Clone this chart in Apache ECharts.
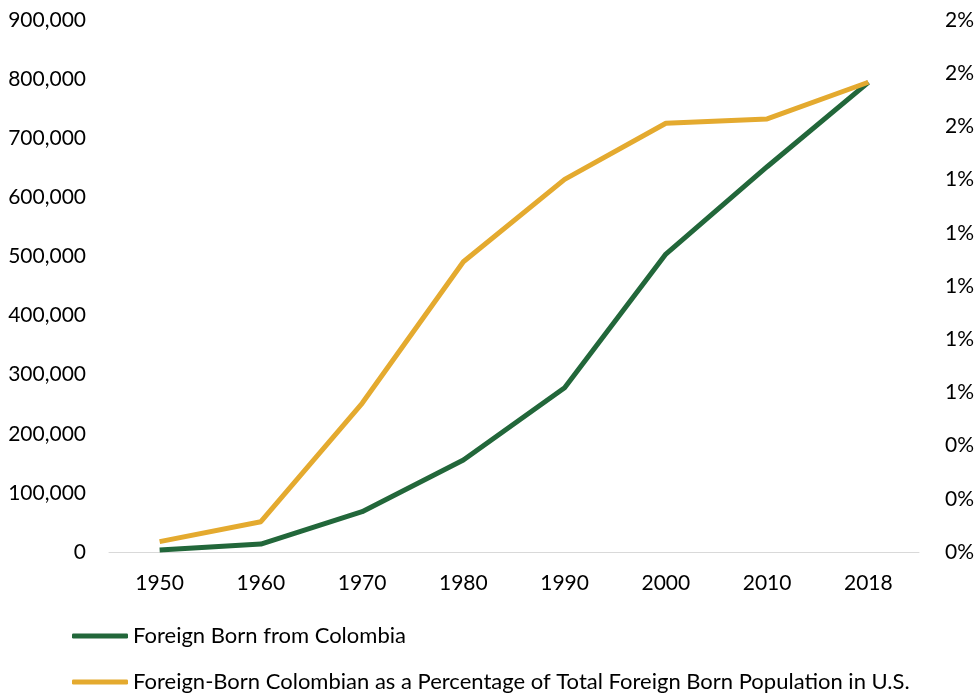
<!DOCTYPE html>
<html>
<head>
<meta charset="utf-8">
<script src="https://cdn.jsdelivr.net/npm/echarts@6/dist/echarts.min.js"></script>
<style>html,body{margin:0;padding:0;background:#fff}#c{width:977px;height:694px}</style>
</head>
<body>
<div id="c"></div>
<script>
const categories = ['1950','1960','1970','1980','1990','2000','2010','2018'];
const foreignBorn = [3400, 13500, 68200, 155600, 278000, 504000, 651800, 794600];
const percentOfTotal = [0.00039, 0.00114, 0.00559, 0.01091, 0.01401, 0.01612, 0.01628, 0.01766];
const seriesNames = ['Foreign Born from Colombia', 'Foreign-Born Colombian as a Percentage of Total Foreign Born Population in U.S.'];

const font = 'Lato, "Open Sans", sans-serif';
const legendBase = {
  orient: 'horizontal', left: 72,
  itemWidth: 56, itemHeight: 5, icon: 'roundRect', padding: 0,
  textStyle: { fontFamily: font, fontSize: 22, color: '#000', lineHeight: 24 }
};
const chart = echarts.init(document.getElementById('c'));
chart.setOption({
  animation: false,
  textStyle: { fontFamily: font },
  grid: { left: 109, right: 55.5, top: 20, bottom: 142 },
  legend: [
    Object.assign({}, legendBase, { top: 624, data: [seriesNames[0]] }),
    Object.assign({}, legendBase, { top: 670, data: [seriesNames[1]] })
  ],
  xAxis: {
    type: 'category', data: categories, boundaryGap: true,
    axisLine: { lineStyle: { color: '#d9d9d9', width: 1 } },
    axisTick: { show: false },
    axisLabel: { color: '#000', fontSize: 21, margin: 21, fontFamily: font }
  },
  yAxis: [{
    type: 'value', min: 0, max: 900000, interval: 100000,
    splitLine: { show: false }, axisLine: { show: false }, axisTick: { show: false },
    axisLabel: { color: '#000', fontSize: 21, margin: 23, fontFamily: font,
      formatter: v => v.toLocaleString('en-US') }
  }, {
    type: 'value', min: 0, max: 0.02, interval: 0.002, position: 'right',
    splitLine: { show: false }, axisLine: { show: false }, axisTick: { show: false },
    axisLabel: { color: '#000', fontSize: 21, margin: 26, fontFamily: font, align: 'left',
      formatter: v => Math.round(v * 100) + '%' }
  }],
  series: [{
    name: seriesNames[0], type: 'line', data: foreignBorn, yAxisIndex: 0,
    symbol: 'none', lineStyle: { color: '#22673a', width: 5 }, itemStyle: { color: '#22673a' }
  }, {
    name: seriesNames[1], type: 'line', data: percentOfTotal, yAxisIndex: 1,
    symbol: 'none', lineStyle: { color: '#e4aa2f', width: 5 }, itemStyle: { color: '#e4aa2f' }
  }]
});
</script>
</body>
</html>
